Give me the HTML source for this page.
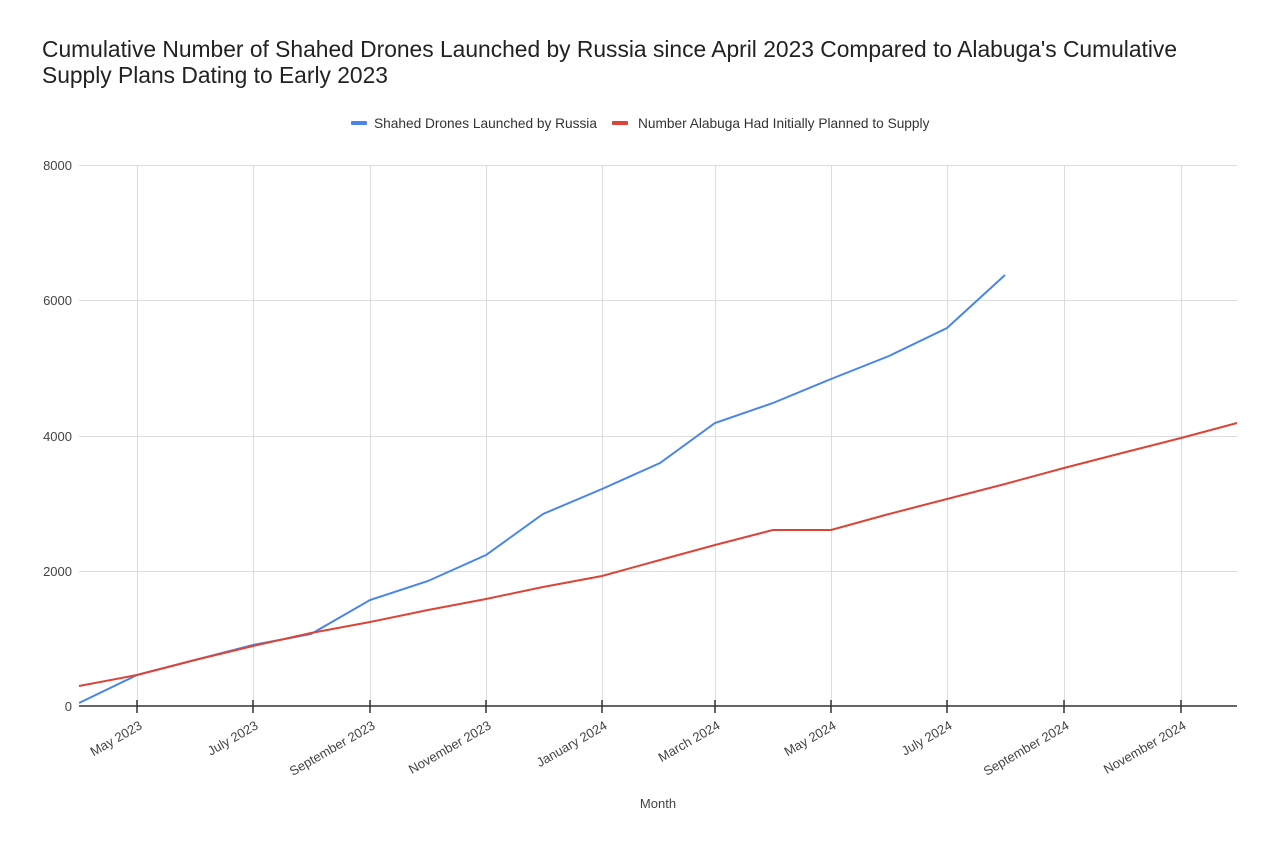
<!DOCTYPE html>
<html><head><meta charset="utf-8"><style>
body{margin:0;background:#fff}
svg{display:block;font-family:"Liberation Sans",Arial,sans-serif}
</style></head><body>
<svg width="1280" height="854" viewBox="0 0 1280 854">
<rect width="1280" height="854" fill="#fff"/>
<text x="42" y="57" font-size="22.8" fill="#222" textLength="1135" lengthAdjust="spacingAndGlyphs">Cumulative Number of Shahed Drones Launched by Russia since April 2023 Compared to Alabuga's Cumulative</text>
<text x="42" y="83" font-size="22.8" fill="#222">Supply Plans Dating to Early 2023</text>
<rect x="351" y="121" width="16" height="4" rx="1" fill="#4a86e8"/>
<text x="374" y="128" font-size="13.7" fill="#333">Shahed Drones Launched by Russia</text>
<rect x="612" y="121" width="16" height="4" rx="1" fill="#db4437"/>
<text x="638" y="128" font-size="13.7" fill="#333">Number Alabuga Had Initially Planned to Supply</text>
<g stroke="#ddd" stroke-width="1">
<line x1="79" y1="165.5" x2="1237" y2="165.5"/>
<line x1="79" y1="300.5" x2="1237" y2="300.5"/>
<line x1="79" y1="436.5" x2="1237" y2="436.5"/>
<line x1="79" y1="571.5" x2="1237" y2="571.5"/>
<line x1="137.5" y1="165" x2="137.5" y2="706"/>
<line x1="253.5" y1="165" x2="253.5" y2="706"/>
<line x1="370.5" y1="165" x2="370.5" y2="706"/>
<line x1="486.5" y1="165" x2="486.5" y2="706"/>
<line x1="602.5" y1="165" x2="602.5" y2="706"/>
<line x1="715.5" y1="165" x2="715.5" y2="706"/>
<line x1="831.5" y1="165" x2="831.5" y2="706"/>
<line x1="947.5" y1="165" x2="947.5" y2="706"/>
<line x1="1064.5" y1="165" x2="1064.5" y2="706"/>
<line x1="1181.5" y1="165" x2="1181.5" y2="706"/>
</g>
<g font-size="13" fill="#444" text-anchor="end">
<text x="72" y="170">8000</text><text x="72" y="305">6000</text><text x="72" y="441">4000</text><text x="72" y="576">2000</text><text x="72" y="711">0</text>
</g>
<polyline fill="none" stroke="#4a86e8" stroke-width="2" points="79,703 137,675 195,660 253,645 311,634 370,600 428,581 486,555 543,514 602,489 660,463 715,423 773,403 831,379 889,356 947,328 1005,275"/>
<polyline fill="none" stroke="#db4437" stroke-width="2" points="79,686 137,675 195,660 253,646 311,633 370,622 428,610 486,599 543,587 602,576 660,560 715,545 773,530 831,530 889,514 947,499 1005,484 1064,468 1122,453 1181,438 1237,423"/>
<line x1="79" y1="706" x2="1237" y2="706" stroke="#333" stroke-width="1.5"/>
<g stroke="#333" stroke-width="1.5">
<line x1="137" y1="700" x2="137" y2="713"/><line x1="253" y1="700" x2="253" y2="713"/><line x1="370" y1="700" x2="370" y2="713"/><line x1="486" y1="700" x2="486" y2="713"/><line x1="602" y1="700" x2="602" y2="713"/><line x1="715" y1="700" x2="715" y2="713"/><line x1="831" y1="700" x2="831" y2="713"/><line x1="947" y1="700" x2="947" y2="713"/><line x1="1064" y1="700" x2="1064" y2="713"/><line x1="1181" y1="700" x2="1181" y2="713"/>
</g>
<g font-size="13" fill="#444" text-anchor="end">
<text transform="translate(143,728) rotate(-30)">May 2023</text>
<text transform="translate(259,728) rotate(-30)">July 2023</text>
<text transform="translate(376,728) rotate(-30)">September 2023</text>
<text transform="translate(492,728) rotate(-30)">November 2023</text>
<text transform="translate(608,728) rotate(-30)">January 2024</text>
<text transform="translate(721,728) rotate(-30)">March 2024</text>
<text transform="translate(837,728) rotate(-30)">May 2024</text>
<text transform="translate(953,728) rotate(-30)">July 2024</text>
<text transform="translate(1070,728) rotate(-30)">September 2024</text>
<text transform="translate(1187,728) rotate(-30)">November 2024</text>
</g>
<text x="658" y="808" font-size="13" fill="#444" text-anchor="middle">Month</text>
</svg>
</body></html>
